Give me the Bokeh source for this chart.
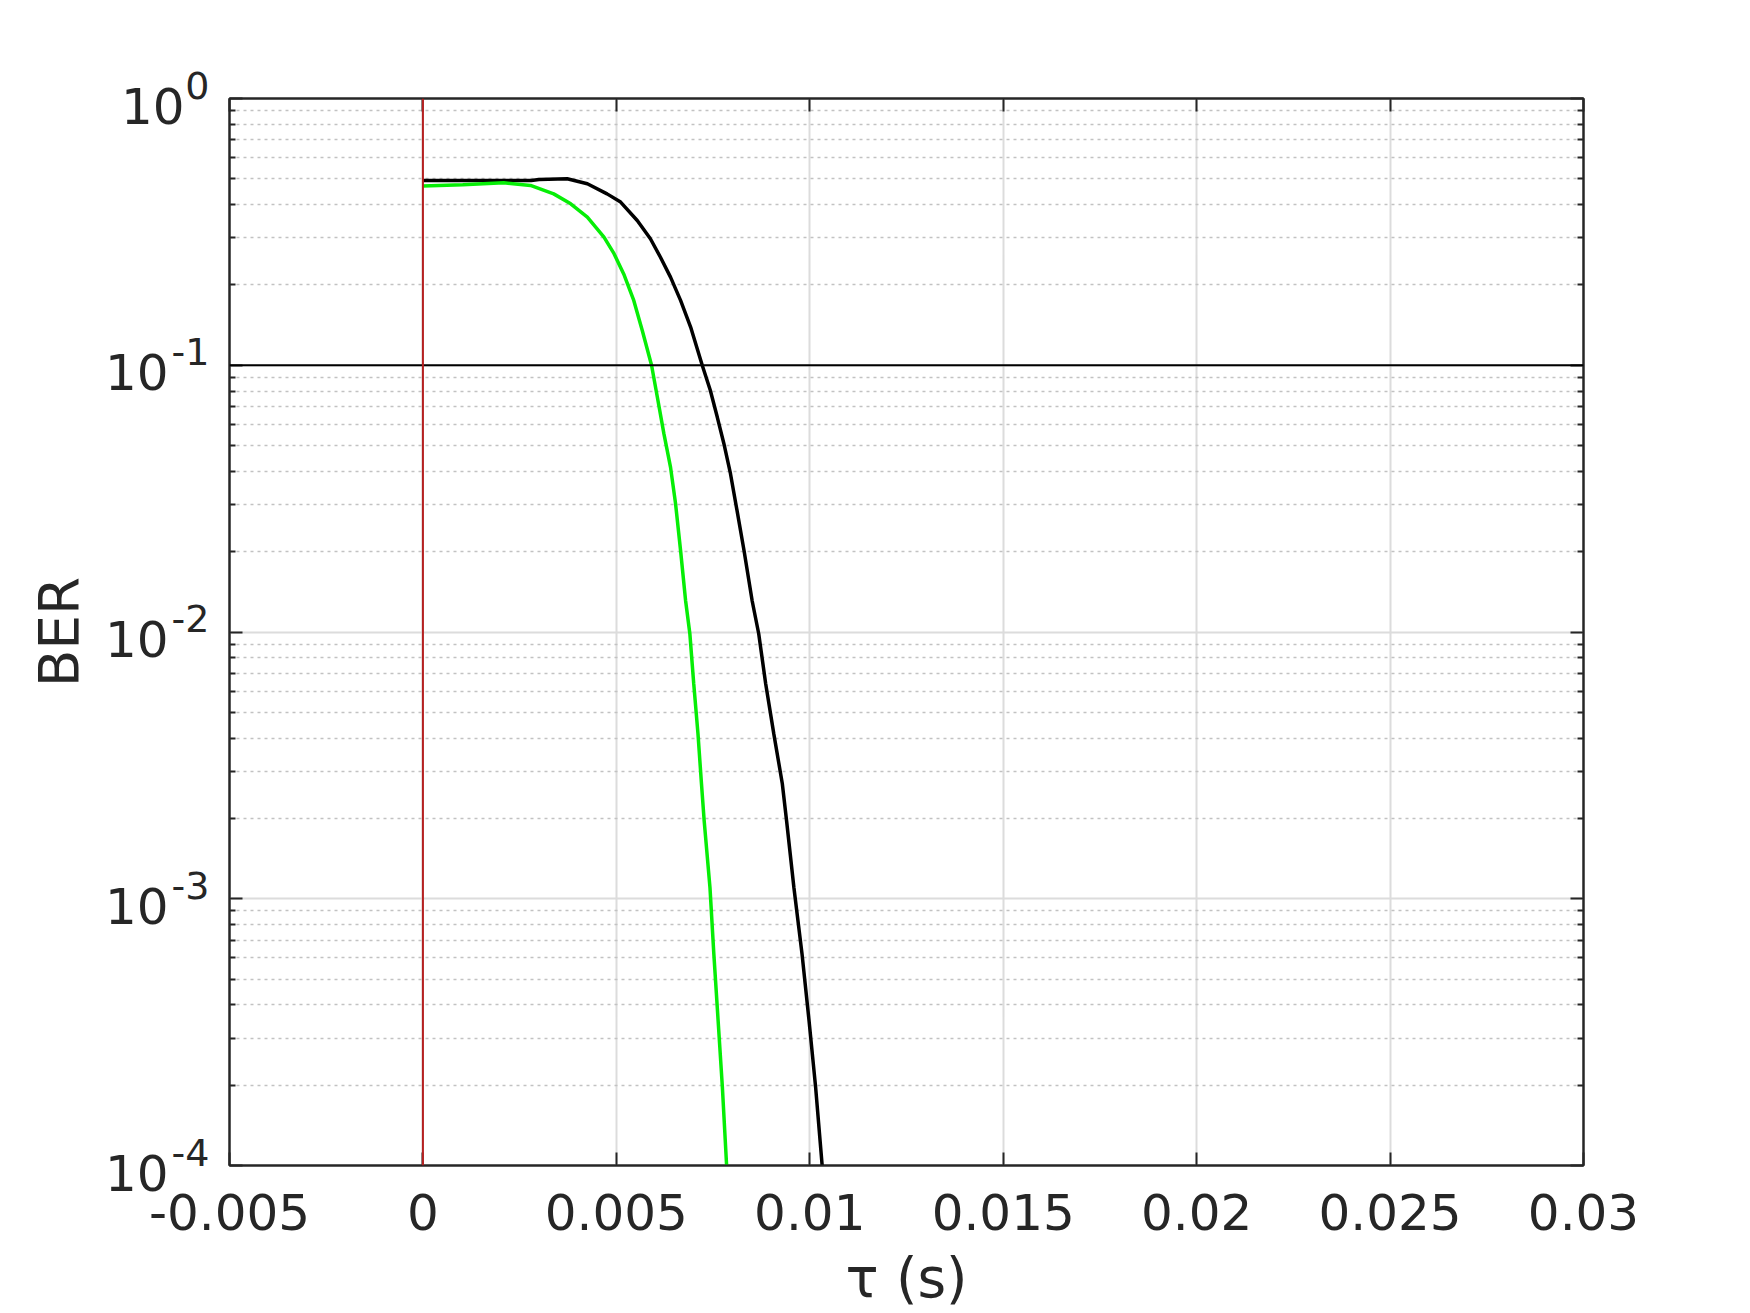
import math
from bokeh.plotting import figure
from bokeh.models import FixedTicker, LinearAxis, LogAxis, Span, Range1d
from bokeh.embed import file_html
from bokeh.resources import INLINE

# ---- data ----
x_ticks = [-0.005, 0.0, 0.005, 0.01, 0.015, 0.02, 0.025, 0.03]
x_tick_labels = ["-0.005", "0", "0.005", "0.01", "0.015", "0.02", "0.025", "0.03"]
y_exponents = [-4, -3, -2, -1, 0]
y_ticks = [10.0 ** e for e in y_exponents]
y_minor = [k * 10.0 ** e for e in [-4, -3, -2, -1] for k in range(2, 10)]

black_x = [0.0, 0.0028, 0.0030, 0.00373, 0.00425, 0.00476, 0.00511, 0.00554, 0.00588,
           0.00614, 0.00640, 0.00666, 0.00692, 0.00722, 0.00743, 0.00761, 0.00778,
           0.00795, 0.00812, 0.00830, 0.00851, 0.00868, 0.00886, 0.00907, 0.00929,
           0.00940, 0.00959, 0.00980, 0.00998, 0.01015, 0.01032, 0.01040]
black_y = [0.493, 0.493, 0.497, 0.500, 0.479, 0.439, 0.409, 0.349, 0.298,
           0.254, 0.214, 0.175, 0.139, 0.100, 0.0804, 0.0638, 0.0508,
           0.0392, 0.0285, 0.0202, 0.0131, 0.00985, 0.0064, 0.00415, 0.0027,
           0.00196, 0.0011, 0.00062, 0.00035, 0.000197, 0.0001, 0.00008]

green_x = [0.0, 0.00103, 0.00209, 0.00278, 0.00338, 0.00382, 0.00425, 0.00468, 0.00494,
           0.00519, 0.00545, 0.00567, 0.00591, 0.00606, 0.00623, 0.00640, 0.00653,
           0.00666, 0.00679, 0.00690, 0.00700, 0.00711, 0.00720, 0.00727, 0.00742,
           0.00752, 0.00763, 0.00774, 0.00785, 0.00790]
green_y = [0.470, 0.475, 0.483, 0.472, 0.439, 0.403, 0.359, 0.302, 0.262,
           0.220, 0.175, 0.135, 0.100, 0.0759, 0.0553, 0.0415, 0.0303,
           0.0202, 0.0131, 0.00985, 0.0064, 0.00415, 0.0027, 0.00196, 0.0011,
           0.00062, 0.00035, 0.000197, 0.0001, 0.00008]

threshold_ber = 0.1
zero_tau = 0.0

x_min, x_max = -0.005, 0.03
y_min, y_max = 1e-4, 1.0

AX = "#262626"
FONT = "DejaVu Sans"

p = figure(width=1750, height=1313,
           x_range=Range1d(x_min, x_max), y_range=Range1d(y_min, y_max),
           y_axis_type="log", output_backend="svg", toolbar_location=None, tools="",
           min_border_left=229, min_border_right=167, min_border_top=98, min_border_bottom=148)
p.background_fill_color = "white"
p.border_fill_color = "white"
p.outline_line_color = AX
p.outline_line_width = 2


def style_axis(ax):
    ax.axis_line_color = AX
    ax.axis_line_width = 2
    ax.major_tick_line_color = AX
    ax.major_tick_line_width = 2
    ax.major_tick_in = 13
    ax.major_tick_out = 0
    ax.minor_tick_line_color = AX
    ax.minor_tick_line_width = 2
    ax.minor_tick_in = 6
    ax.minor_tick_out = 0
    ax.major_label_text_font = FONT
    ax.major_label_text_color = AX
    ax.axis_label_text_font = FONT
    ax.axis_label_text_color = AX
    ax.axis_label_text_font_style = "normal"


# bottom axis
xb = p.xaxis[0]
xb.ticker = FixedTicker(ticks=x_ticks)
xb.major_label_overrides = {t: s for t, s in zip(x_ticks, x_tick_labels)}
style_axis(xb)
xb.major_label_text_font_size = "50px"
xb.major_label_standoff = 28
xb.axis_label = "τ (s)"
xb.axis_label_text_font_size = "55px"
xb.axis_label_standoff = 13

# top axis
xt = LinearAxis(ticker=FixedTicker(ticks=x_ticks),
                major_label_overrides={t: "" for t in x_ticks})
style_axis(xt)
p.add_layout(xt, "above")

# left axis (inner): exponents, raised by an empty second line
sup_text = {v: ("0" if e == 0 else "-" + str(abs(e))) + "\n" for e, v in zip(y_exponents, y_ticks)}
yl = p.yaxis[0]
yl.ticker = FixedTicker(ticks=y_ticks, minor_ticks=y_minor)
yl.major_label_overrides = sup_text
style_axis(yl)
yl.major_label_text_font_size = "38px"
yl.major_label_text_line_height = 0.59
yl.major_label_standoff = 20

# left axis (outer): the base "10" (lowered by an empty first line) and the axis title
base_text = {v: "\n10" + ("" if e == 0 else "\u2008") for e, v in zip(y_exponents, y_ticks)}
yb = LogAxis(ticker=FixedTicker(ticks=y_ticks), major_label_overrides=base_text)
style_axis(yb)
yb.axis_line_color = None
yb.major_tick_line_color = None
yb.minor_tick_line_color = None
yb.major_tick_in = 0
yb.minor_tick_in = 0
yb.major_label_standoff = -16
yb.major_label_text_font_size = "50px"
yb.major_label_text_line_height = 0.28
yb.axis_label = "BER"
yb.axis_label_text_font_size = "55px"
yb.axis_label_standoff = 11
p.add_layout(yb, "left")

# right axis
yr = LogAxis(ticker=FixedTicker(ticks=y_ticks, minor_ticks=y_minor),
             major_label_overrides={t: "" for t in y_ticks})
style_axis(yr)
p.add_layout(yr, "right")

# grids
p.xgrid.ticker = FixedTicker(ticks=x_ticks)
p.xgrid.grid_line_color = "#dcdcdc"
p.xgrid.grid_line_width = 2
p.ygrid.ticker = FixedTicker(ticks=y_ticks, minor_ticks=y_minor)
p.ygrid.grid_line_color = "#dcdcdc"
p.ygrid.grid_line_width = 2
p.ygrid.minor_grid_line_color = "#c2c2c2"
p.ygrid.minor_grid_line_width = 1.5
p.ygrid.minor_grid_line_dash = "3 4"

# curves
p.line(black_x, black_y, line_color="black", line_width=3.5)
p.line(green_x, green_y, line_color="#06ee06", line_width=3.5)

# reference lines
p.add_layout(Span(location=threshold_ber, dimension="width", line_color="black", line_width=2))
p.add_layout(Span(location=zero_tau, dimension="height", line_color="#b52020", line_width=2))

open("out.html", "w").write(file_html(p, INLINE))
